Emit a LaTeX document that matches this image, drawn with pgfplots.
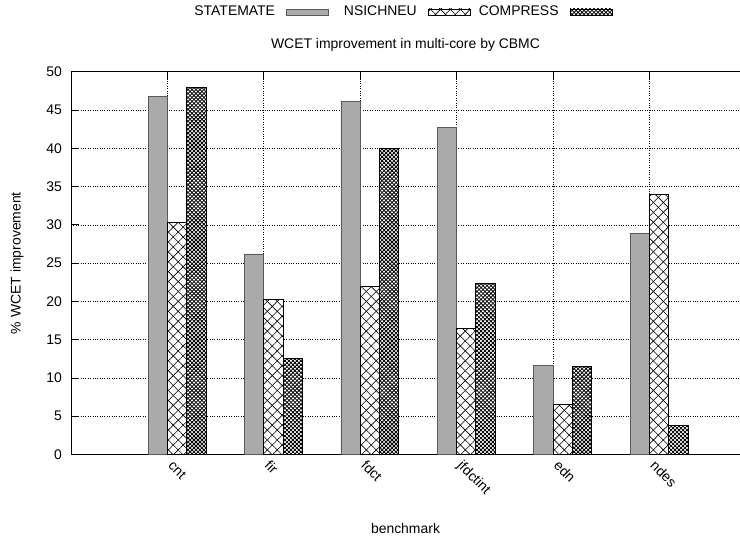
\documentclass[border=0pt]{standalone}
\usepackage{fontspec}
\setmainfont{Liberation Sans}
\usepackage{pgfplots}
\pgfplotsset{compat=1.18}
\usetikzlibrary{patterns.meta}
\definecolor{barGray}{RGB}{170,170,170}
\definecolor{barEdge}{RGB}{90,90,90}
\tikzset{
 xhatch/.style={fill=white, draw=black, line width=0.8bp,
   postaction={pattern={Lines[angle=45,distance=7bp,line width=0.6bp]}},
   postaction={pattern={Lines[angle=-45,distance=7bp,line width=0.6bp]}}},
 dhatch/.style={fill=white, draw=black, line width=0.8bp,
   postaction={pattern={Lines[angle=45,distance=2.8bp,line width=0.8bp]}},
   postaction={pattern={Lines[angle=-45,distance=2.8bp,line width=0.8bp]}}},
}
\begin{document}
\fontsize{14}{17}\selectfont
\begin{tikzpicture}
\useasboundingbox (0,0) rectangle (740bp,539bp);
\begin{axis}[
 at={(71bp,84.5bp)}, anchor=south west, scale only axis,
 width=669bp, height=382.8bp,
 xmin=-1, xmax=5.94, ymin=0, ymax=50,
 axis x line*=box, axis y line*=left,
 xtick={0,...,5}, xticklabels={cnt,fir,fdct,jfdctint,edn,ndes},
 ytick={0,5,...,50},
 tick align=inside, major tick length=8bp,
 tick style={black, line width=0.8bp},
 axis line style={black, line width=0.8bp},
 grid=major, grid style={dotted, black, line width=0.6bp},
 /pgf/number format/assume math mode=true,
 xticklabel style={yshift=-12bp, rotate=-45, anchor=base west, inner sep=0pt},
 yticklabel style={inner sep=0pt, xshift=-9bp, anchor=east},
 title={WCET improvement in multi-core by CBMC},
 title style={at={(axis description cs:0.5,1.0462)}, anchor=base, inner sep=0pt},
 xlabel={benchmark},
 xlabel style={at={(axis description cs:0.5,-0.2051)}, anchor=base, inner sep=0pt},
 ylabel={\% WCET improvement},
 ylabel style={at={(axis description cs:-0.0807,0.5)}, anchor=center, inner sep=0pt},
 legend columns=3, legend plot pos=right,
 legend style={at={(axis description cs:0.1734,1.156)}, anchor=west, draw=none, fill=none, inner sep=0pt, outer sep=0pt, column sep=0pt, row sep=0pt, nodes={inner sep=0pt}},
 legend image code/.code={\draw[#1] (0bp,-3bp) rectangle (42bp,3bp);},
]
\addplot[ybar, bar width=0.2, bar shift=-0.1, fill=barGray, draw=barEdge, line width=0.8bp]
 coordinates {(0,46.8) (1,26.2) (2,46.1) (3,42.7) (4,11.6) (5,28.9)};
\addlegendentry{\makebox[99bp][r]{STATEMATE\hspace{11bp}}}
\addplot[ybar, bar width=0.2, bar shift=0.1, xhatch]
 coordinates {(0,30.3) (1,20.2) (2,22.0) (3,16.5) (4,6.5) (5,34.0)};
\addlegendentry{\makebox[99bp][r]{NSICHNEU\hspace{11bp}}}
\addplot[ybar, bar width=0.2, bar shift=0.3, dhatch]
 coordinates {(0,47.9) (1,12.6) (2,40.0) (3,22.3) (4,11.5) (5,3.8)};
\addlegendentry{\makebox[99bp][r]{COMPRESS\hspace{11bp}}}
\end{axis}
\end{tikzpicture}
\end{document}
